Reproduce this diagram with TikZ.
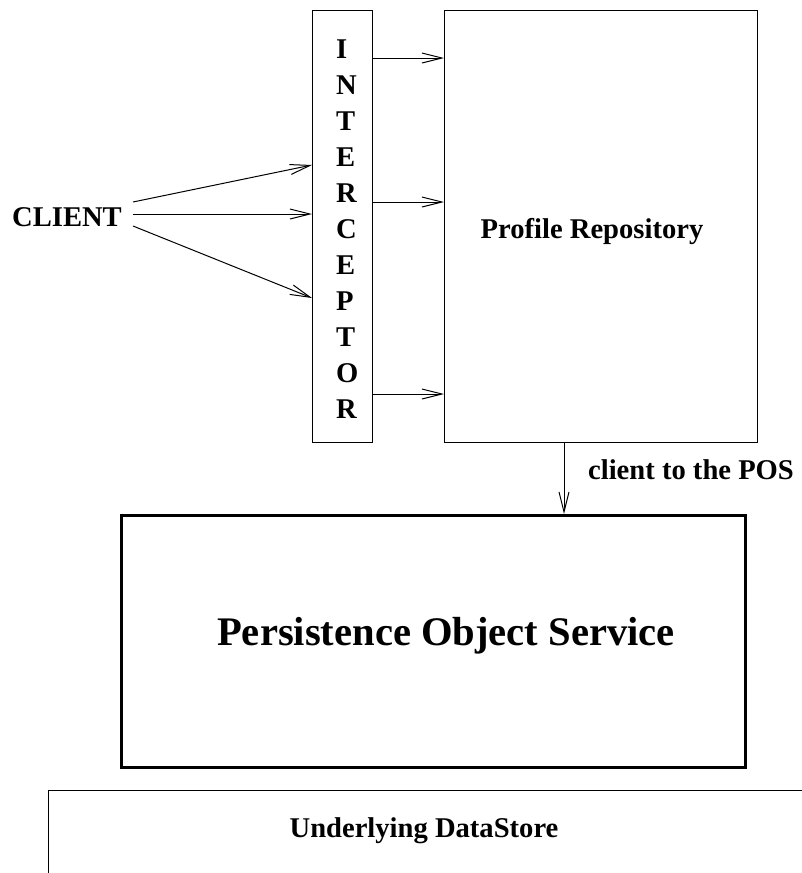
\documentclass[tikz,border=0pt]{standalone}
\usepackage{fontspec}
\setmainfont{Liberation Serif}
\usetikzlibrary{arrows.meta}
\begin{document}
\begin{tikzpicture}[x=1pt,y=-1pt,
  lbl/.style={font=\fontsize{28.6}{30}\bfseries\selectfont, inner sep=0pt},
  biglbl/.style={font=\fontsize{40.6}{44}\bfseries\selectfont, inner sep=0pt},
  box/.style={draw, line width=1pt, inner sep=0pt, anchor=north west},
  arr/.style={line width=1pt, -{Straight Barb[length=20pt,width=10pt,line width=1pt]}},
]
\useasboundingbox (0,0) rectangle (802,873);
\clip (0,0) rectangle (802,873);

% interceptor column with its stacked letters
\node[box, minimum width=60pt, minimum height=432pt] (icp) at (312,10) {};
\foreach \l [count=\i from 0] in {I,N,T,E,R,C,E,P,T,O,R}
  \node[lbl, anchor=base west] (icpl\i) at (336,58+36*\i) {\l};

% profile repository
\node[box, minimum width=313pt, minimum height=432pt] (repo) at (444,10) {};
\node[lbl, anchor=base] (repolbl) at (592,238) {Profile Repository};

% client
\node[lbl, anchor=base] (client) at (67,226) {CLIENT};
\coordinate (cA) at (133,202);
\coordinate (cB) at (133,214);
\coordinate (cC) at (133,226);
\coordinate (iA) at (312,165);
\coordinate (iB) at (312,214);
\coordinate (iC) at (312,298);
\draw[arr] (cA) -- (iA);
\draw[arr] (cB) -- (iB);
\draw[arr] (cC) -- (iC);

% interceptor to repository
\foreach \y in {58,202,394}
  \draw[arr] (icp.east |- 0,\y) -- (repo.west |- 0,\y);

% persistence object service
\node[draw, line width=2.5pt, inner sep=0pt, anchor=north west,
      minimum width=624pt, minimum height=252pt] (pos) at (120,514) {};
\node[biglbl, anchor=base] (poslbl) at (446,645) {Persistence Object Service};

\draw[arr] (repo.south -| 564,0) -- (pos.north -| 564,0);
\node[lbl, anchor=base] (toposlbl) at (691,479) {client to the POS};

% underlying data store, running off the page
\node[box, minimum width=820pt, minimum height=150pt] (store) at (48,790) {};
\node[lbl, anchor=base] (storelbl) at (424,837) {Underlying DataStore};
\end{tikzpicture}
\end{document}
